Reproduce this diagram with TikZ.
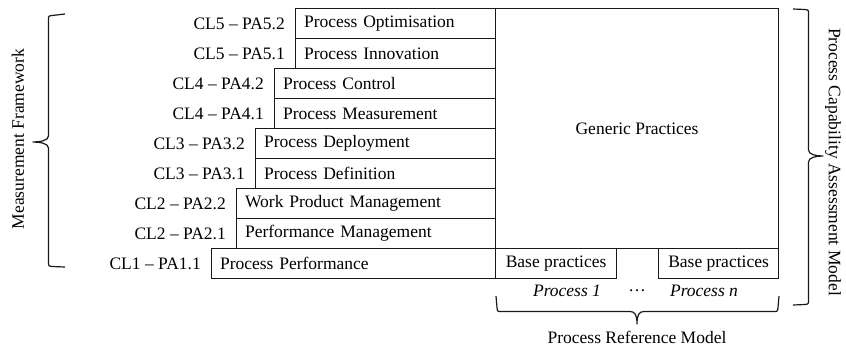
\documentclass[tikz,border=0pt]{standalone}
\usepackage{fontspec}
\setmainfont{Liberation Serif}
\begin{document}
\begin{tikzpicture}[x=1pt,y=-1pt,
  ink/.style={draw=black!90, line width=1.1pt},
  pabox/.style={ink, anchor=north west, minimum height=30pt, inner ysep=0pt,
    inner xsep=8.5pt, align=left, font=\fontsize{17.5}{20}\selectfont},
  bigbox/.style={ink, anchor=north west, inner sep=0pt, font=\fontsize{17.5}{20}\selectfont},
  lbl/.style={anchor=east, inner sep=0pt, font=\fontsize{17.5}{20}\selectfont},
  txt/.style={inner sep=0pt, font=\fontsize{17.5}{20}\selectfont},
  brace/.style={draw=black!90, line width=1.2pt, line join=round}]
\useasboundingbox (0,0) rectangle (846,346);

% process attribute boxes, one row per attribute
\node[pabox, text width=200pt-17pt] (r0) at (295,8)   {Process Optimisation};
\node[pabox, text width=200pt-17pt] (r1) at (295,38)  {Process Innovation};
\node[pabox, text width=221pt-17pt] (r2) at (274,68)  {Process Control};
\node[pabox, text width=221pt-17pt] (r3) at (274,98)  {Process Measurement};
\node[pabox, text width=240pt-17pt] (r4) at (255,128) {Process Deployment};
\node[pabox, text width=240pt-17pt] (r5) at (255,158) {Process Definition};
\node[pabox, text width=259pt-17pt] (r6) at (236,188) {Work Product Management};
\node[pabox, text width=259pt-17pt] (r7) at (236,218) {Performance Management};
\node[pabox, text width=284pt-17pt] (r8) at (211,248) {Process Performance};

% capability level / attribute labels
\node[lbl] at ([xshift=-10pt]r0.west) {CL5 -- PA5.2};
\node[lbl] at ([xshift=-10pt]r1.west) {CL5 -- PA5.1};
\node[lbl] at ([xshift=-10pt]r2.west) {CL4 -- PA4.2};
\node[lbl] at ([xshift=-10pt]r3.west) {CL4 -- PA4.1};
\node[lbl] at ([xshift=-10pt]r4.west) {CL3 -- PA3.2};
\node[lbl] at ([xshift=-10pt]r5.west) {CL3 -- PA3.1};
\node[lbl] at ([xshift=-10pt]r6.west) {CL2 -- PA2.2};
\node[lbl] at ([xshift=-10pt]r7.west) {CL2 -- PA2.1};
\node[lbl] at ([xshift=-10pt]r8.west) {CL1 -- PA1.1};

% generic and base practices
\node[bigbox, minimum width=283pt, minimum height=240pt] (gp) at (495,8) {Generic Practices};
\node[bigbox, minimum width=121pt, minimum height=30pt] (bp1) at (495,248) {Base practices};
\node[bigbox, minimum width=120pt, minimum height=30pt] (bpn) at (658,248) {Base practices};

\node[txt, font=\fontsize{17.5}{20}\selectfont\itshape] (p1) at (567,291) {Process 1};
\node[txt] (dots) at (637,291) {\dots};
\node[txt, font=\fontsize{17.5}{20}\selectfont\itshape] (pn) at (704,291) {Process \textit{n}};

% braces
\draw[brace] (65,14) -- (52,15.5) .. controls (48.5,16) .. (48.5,19.5) -- (48.5,136)
  .. controls (48.5,140.5) and (40,142) .. (33,142)
  .. controls (40,142) and (48.5,143.5) .. (48.5,148) -- (48.5,262)
  .. controls (48.5,266) .. (52,266.5) -- (65,267);
\draw[brace] (793,9) -- (805,9.5) .. controls (808.5,10) .. (808.5,13.5) -- (808.5,150)
  .. controls (808.5,154.5) and (816,156) .. (823,156)
  .. controls (816,156) and (808.5,157.5) .. (808.5,162) -- (808.5,300)
  .. controls (808.5,304) .. (805,304.5) -- (793,305);
\draw[brace] (496,296) -- (497,307.5) .. controls (497.5,311.5) .. (501,311.5) -- (630,311.5)
  .. controls (635,311.5) and (637,315) .. (637,324)
  .. controls (637,315) and (639,311.5) .. (644,311.5) -- (774,311.5)
  .. controls (777.5,311.5) .. (778,307.5) -- (779,296);

% brace captions
\node[txt, rotate=90] (mf) at (18,139) {Measurement Framework};
\node[txt, rotate=-90] (pcam) at (833,162) {Process Capability Assessment Model};
\node[txt] (prm) at (637,337) {Process Reference Model};
\end{tikzpicture}
\end{document}
